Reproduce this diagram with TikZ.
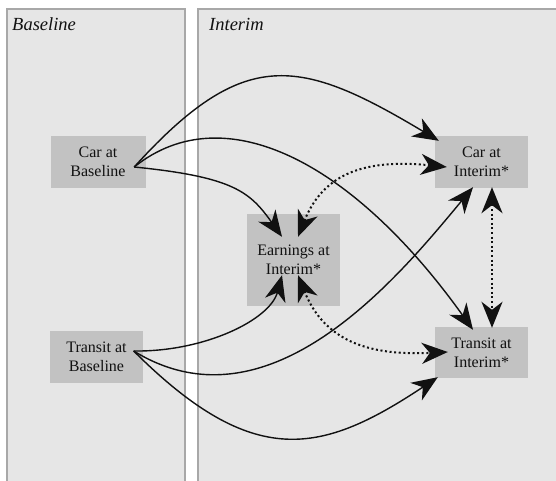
\documentclass[tikz,border=0pt]{standalone}
\usepackage{fontspec}
\setmainfont{Liberation Serif}
\usepackage{xcolor}
\usetikzlibrary{arrows.meta}

\definecolor{panelgray}{HTML}{E6E6E6}
\definecolor{panelline}{HTML}{A8A8A8}
\definecolor{boxgray}{HTML}{C2C2C2}
\definecolor{inkgray}{HTML}{111111}

\tikzset{
  bigtip/.tip={Stealth[length=26pt,width=21pt,inset=8pt]}
}

\begin{document}
\begin{tikzpicture}[x=1pt,y=-1pt,
    panel/.style={draw=panelline,fill=panelgray,line width=1.2pt},
    paneltitle/.style={anchor=base west,inner sep=0pt,text=inkgray,
      font=\fontsize{18.5}{22}\selectfont\itshape},
    varbox/.style={fill=boxgray,align=center,inner sep=0pt,text=inkgray,
      minimum width=93pt,font=\fontsize{16}{19}\selectfont},
    effect/.style={line width=1.4pt,draw=inkgray,-bigtip},
    assoc/.style={line width=2pt,draw=inkgray,dash pattern=on 2pt off 2.6pt,bigtip-bigtip}]
    \useasboundingbox (0,0) rectangle (556,481);
    \clip (0,0) rectangle (556,481);
    % panels
    \draw[panel] (7,9) rectangle (185,495);
    \draw[panel] (198,9) rectangle (570,495);
    \node[paneltitle] (tBase) at (12,31) {Baseline};
    \node[paneltitle] (tInt) at (209,31) {Interim};
    % variables
    \node[varbox,minimum width=95pt,minimum height=52pt] (carB) at (98,162) {Car at\\Baseline};
    \node[varbox,minimum height=52pt] (trB) at (96.5,357) {Transit at\\Baseline};
    \node[varbox,minimum height=92pt] (earn) at (293.5,260) {Earnings at\\Interim*};
    \node[varbox,minimum height=52pt] (carI) at (481.5,162) {Car at\\Interim*};
    \node[varbox,minimum height=51pt] (trI) at (481.5,352.5) {Transit at\\Interim*};
    % connector ends
    \coordinate (carBo) at ([shift={(-11.5,5)}]carB.east);
    \coordinate (trBo) at ([shift={(-9.5,-6)}]trB.east);
    \coordinate (carIa) at ([shift={(4,5)}]carI.north west);
    \coordinate (carIb) at ([shift={(12,5)}]carI.west);
    \coordinate (carIc) at ([shift={(-8.5,-1)}]carI.south);
    \coordinate (carId) at ([shift={(10.5,-1)}]carI.south);
    \coordinate (trIa) at ([shift={(-8.5,3)}]trI.north);
    \coordinate (trIb) at ([shift={(10.5,1)}]trI.north);
    \coordinate (trIc) at ([shift={(13,-0.5)}]trI.west);
    \coordinate (trId) at ([shift={(3,-1)}]trI.south west);
    \coordinate (earnA) at ([shift={(-11.5,23)}]earn.north);
    \coordinate (earnB) at ([shift={(4.5,23)}]earn.north);
    \coordinate (earnC) at ([shift={(-11.5,-31)}]earn.south);
    \coordinate (earnD) at ([shift={(4.5,-31)}]earn.south);
    % effects
    \draw[effect] (carBo) .. controls (244,46) and (299,57) .. (carIa);
    \draw[effect] (carBo) .. controls (224,95) and (353,162) .. (trIa);
    \draw[effect] (carBo) .. controls (234,177) and (250,192) .. (earnA);
    \draw[effect] (trBo) .. controls (204,352) and (270,320) .. (earnC);
    \draw[effect] (trBo) .. controls (270,435) and (400,275) .. (carIc);
    \draw[effect] (trBo) .. controls (254,471) and (322,454) .. (trId);
    % associations
    \draw[assoc] (earnB) .. controls (324,172) and (367,159) .. (carIb);
    \draw[assoc] (earnD) .. controls (324,340) and (367,356) .. (trIc);
    \draw[assoc] (carId) -- (trIb);
\end{tikzpicture}
\end{document}
